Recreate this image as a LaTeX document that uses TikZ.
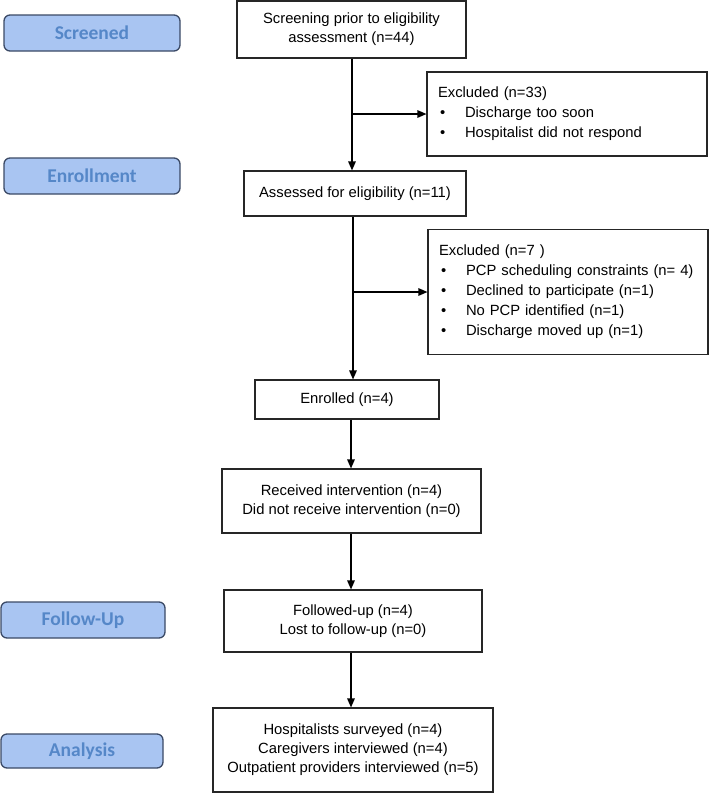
\documentclass[tikz,border=0pt]{standalone}
\usepackage{fontspec}
\setmainfont{Liberation Sans}
\newfontfamily\labelfont{Carlito}
\usetikzlibrary{arrows.meta}
\definecolor{lblfill}{HTML}{A9C5F2}
\definecolor{lbltext}{HTML}{5587C8}
\definecolor{lbldraw}{HTML}{3B4A66}
\begin{document}
\begin{tikzpicture}[x=1pt,y=-1pt,
  flowbox/.style={draw=black!85,line width=1.1pt,fill=white,inner sep=0pt,align=center,
     font=\fontsize{14.8}{19}\selectfont},
  exbox/.style={draw=black!85,line width=1.1pt,fill=white,inner xsep=11pt,inner ysep=0pt,
     align=left,font=\fontsize{14.8}{20}\selectfont,text width=258pt},
  stagebox/.style={draw=lbldraw,line width=1.3pt,fill=lblfill,rounded corners=6pt,
     text=lbltext,font=\labelfont\bfseries\fontsize{19.5}{22}\selectfont,inner sep=0pt},
  arr/.style={line width=1.3pt,-{Triangle[length=9pt,width=7.5pt]}},
  ln/.style={line width=1.3pt}]
\useasboundingbox (0,0) rectangle (709,793);
% stage labels
\node[stagebox,minimum width=176pt,minimum height=36pt] (lscr) at (92,33) {Screened};
\node[stagebox,minimum width=176pt,minimum height=36pt] (lenr) at (92,176) {Enrollment};
\node[stagebox,minimum width=164pt,minimum height=36pt] (lfol) at (83,620) {Follow-Up};
\node[stagebox,minimum width=162pt,minimum height=34pt] (lana) at (82,751) {Analysis};
% main flow
\node[flowbox,minimum width=229pt,minimum height=57pt] (scr) at (351.5,29.5)
  {Screening prior to eligibility\\assessment (n=44)};
\node[flowbox,minimum width=222pt,minimum height=45pt] (asd) at (355,193.5)
  {Assessed for eligibility (n=11)};
\node[flowbox,minimum width=184pt,minimum height=39pt] (enr) at (347,399.5)
  {Enrolled (n=4)};
\node[flowbox,minimum width=259pt,minimum height=64pt] (int) at (351.5,501)
  {Received intervention (n=4)\\Did not receive intervention (n=0)};
\node[flowbox,minimum width=258pt,minimum height=62pt] (fol) at (353,621)
  {Followed-up (n=4)\\Lost to follow-up (n=0)};
\node[flowbox,minimum width=280pt,minimum height=84pt] (ana) at (353,750)
  {Hospitalists surveyed (n=4)\\Caregivers interviewed (n=4)\\Outpatient providers interviewed (n=5)};
% exclusion boxes
\node[exbox,minimum height=84pt] (ex1) at (567,114)
  {Excluded (n=33)\\
   \hspace*{2pt}\makebox[25pt][l]{\textbullet}Discharge too soon\\
   \hspace*{2pt}\makebox[25pt][l]{\textbullet}Hospitalist did not respond};
\node[exbox,minimum height=125pt] (ex2) at (568,292)
  {Excluded (n=7 )\\
   \hspace*{2pt}\makebox[25pt][l]{\textbullet}PCP scheduling constraints (n= 4)\\
   \hspace*{2pt}\makebox[25pt][l]{\textbullet}Declined to participate (n=1)\\
   \hspace*{2pt}\makebox[25pt][l]{\textbullet}No PCP identified (n=1)\\
   \hspace*{2pt}\makebox[25pt][l]{\textbullet}Discharge moved up (n=1)};
% connectors
\coordinate (s1) at (352,58);
\coordinate (s2) at (353,216);
\draw[arr] (s1 |- scr.south) -- (s1 |- asd.north);
\draw[arr] (s1 |- ex1.west) -- (ex1.west);
\draw[arr] (s2 |- asd.south) -- (s2 |- enr.north);
\draw[arr] (s2 |- ex2.west) -- (ex2.west);
\coordinate (s3) at (351,0);
\draw[arr] (s3 |- enr.south) -- (s3 |- int.north);
\draw[arr] (s3 |- int.south) -- (s3 |- fol.north);
\draw[arr] (s3 |- fol.south) -- (s3 |- ana.north);
\end{tikzpicture}
\end{document}
